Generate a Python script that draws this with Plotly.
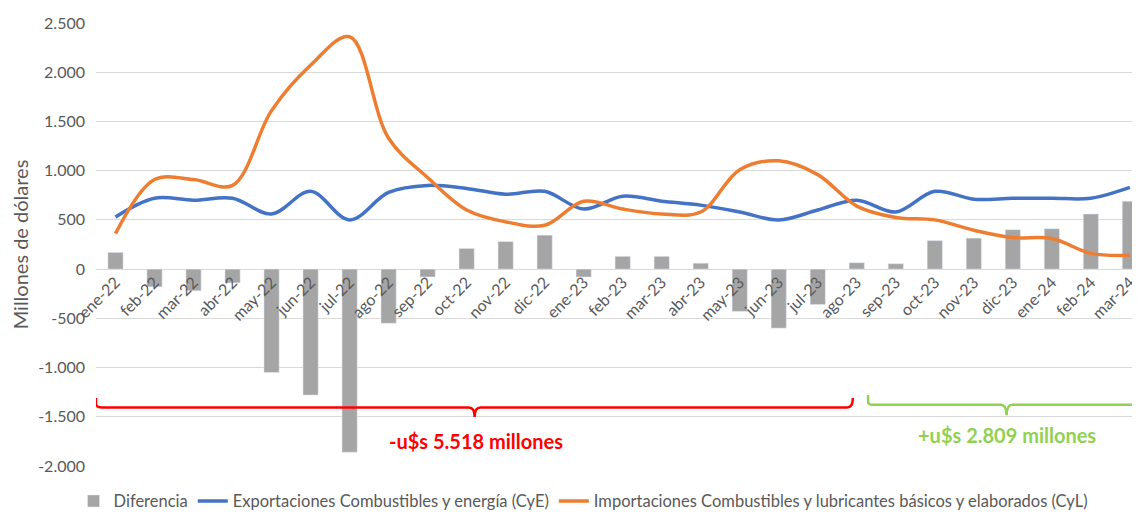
import plotly.graph_objects as go

months = ["ene-22", "feb-22", "mar-22", "abr-22", "may-22", "jun-22", "jul-22", "ago-22",
          "sep-22", "oct-22", "nov-22", "dic-22", "ene-23", "feb-23", "mar-23", "abr-23",
          "may-23", "jun-23", "jul-23", "ago-23", "sep-23", "oct-23", "nov-23", "dic-23",
          "ene-24", "feb-24", "mar-24"]
exportaciones = [530, 720, 700, 720, 560, 790, 500, 780, 850, 820, 760, 790, 610, 740,
                 690, 650, 580, 500, 600, 700, 580, 790, 710, 720, 720, 720, 830]
importaciones = [360, 910, 910, 850, 1610, 2070, 2360, 1330, 930, 600, 480, 445, 690, 610,
                 560, 580, 1010, 1100, 960, 640, 525, 500, 395, 320, 310, 160, 140]
diferencia = [170, -180, -220, -140, -1050, -1280, -1860, -550, -80, 210, 280, 345, -80, 130,
              130, 60, -430, -600, -360, 65, 55, 290, 315, 400, 410, 560, 690]
ytick_vals = [-2000, -1500, -1000, -500, 0, 500, 1000, 1500, 2000, 2500]
ytick_text = ["-2.000", "-1.500", "-1.000", "-500", "0", "500", "1.000", "1.500", "2.000", "2.500"]

x = list(range(len(months)))
FONT = "Lato"
GRAY = "#595959"

fig = go.Figure()
fig.add_trace(go.Bar(x=x, y=diferencia, name="Diferencia", marker_color="#A5A5A5",
                     width=0.39))
fig.add_trace(go.Scatter(x=x, y=exportaciones, mode="lines",
                         name="Exportaciones Combustibles y energía (CyE)",
                         line=dict(color="#4472C4", width=3.5, shape="spline", smoothing=1.0)))
fig.add_trace(go.Scatter(x=x, y=importaciones, mode="lines",
                         name="Importaciones Combustibles y lubricantes básicos y elaborados (CyL)",
                         line=dict(color="#ED7D31", width=3.5, shape="spline", smoothing=1.0)))

ymin, ymax = -2000, 2500


def brace(left, mid, right, h, top, tip, dx=0.15, dy=35):
    return (f"M {left},{top} L {left},{h+dy} Q {left},{h} {left+dx},{h} "
            f"L {mid-dx},{h} Q {mid},{h} {mid},{tip} Q {mid},{h} {mid+dx},{h} "
            f"L {right-dx},{h} Q {right},{h} {right},{top}")


shapes = [
    dict(type="path", xref="x", yref="y",
         path=brace(-0.5, 9.205, 18.9, -1405, -1308, -1501),
         line=dict(color="#FF0000", width=2.5)),
    dict(type="path", xref="x", yref="y",
         path=brace(19.29, 22.84, 26.6, -1379, -1278, -1485),
         line=dict(color="#92D050", width=2.5)),
]

annotations = [
    dict(x=9.23, y=-1745, xref="x", yref="y", text="<b>-u$s 5.518 millones</b>",
         showarrow=False, font=dict(family=FONT, size=20, color="#FF0000")),
    dict(x=22.84, y=-1684, xref="x", yref="y", text="<b>+u$s 2.809 millones</b>",
         showarrow=False, font=dict(family=FONT, size=20, color="#92D050")),
]

fig.update_layout(
    width=1132, height=504,
    margin=dict(l=88, r=0, t=15, b=46, autoexpand=False),
    plot_bgcolor="white", paper_bgcolor="white",
    font=dict(family=FONT, color=GRAY, size=16),
    bargap=0.6,
    shapes=shapes, annotations=annotations,
    legend=dict(orientation="h", xref="paper", yref="paper", x=0.467, y=-0.040,
                xanchor="center", yanchor="top", font=dict(size=16.5, color=GRAY),
                traceorder="normal"),
    xaxis=dict(range=[-0.5, 26.26], tickmode="array", tickvals=x, ticktext=months,
               tickangle=-45, showgrid=False, zeroline=False, showline=False, ticks="",
               ticklen=0, anchor="free", position=(0 - ymin) / (ymax - ymin),
               tickfont=dict(family=FONT, size=16, color=GRAY)),
    yaxis=dict(range=[ymin, ymax], tickmode="array", tickvals=ytick_vals, ticktext=ytick_text,
               showgrid=True, gridcolor="#D9D9D9", gridwidth=1,
               zeroline=True, zerolinecolor="#D9D9D9", zerolinewidth=1,
               ticks="", ticklen=0, ticklabelstandoff=10,
               tickfont=dict(family=FONT, size=16, color=GRAY),
               title=dict(text="Millones de dólares", font=dict(family=FONT, size=20, color=GRAY),
                          standoff=12)),
)

fig.write_html("out.html")
